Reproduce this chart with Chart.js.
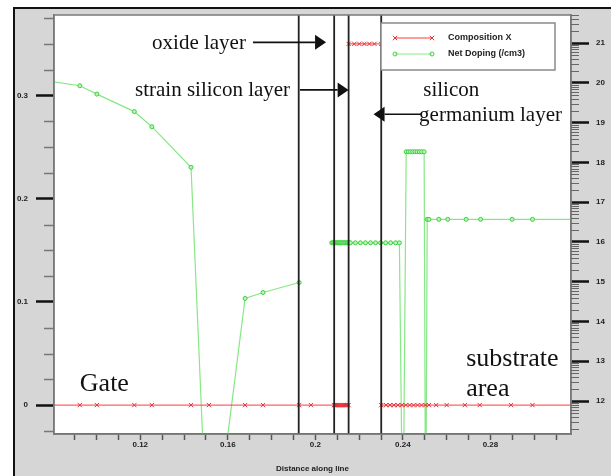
<!DOCTYPE html>
<html>
<head>
<meta charset="utf-8">
<script src="https://cdn.jsdelivr.net/npm/chart.js@4.4.1/dist/chart.umd.min.js"></script>
<style>
html,body{margin:0;padding:0;background:#fff;}
#wrap{position:relative;width:611px;height:476px;}
canvas{display:block;}
</style>
</head>
<body>
<div id="wrap"><canvas id="c" width="611" height="476"></canvas></div>
<script>
// ---------- data ----------
const compX = [0.079, 0.0924, 0.1002, 0.1173, 0.1253, 0.1432, 0.1514, 0.1679, 0.1761, 0.1926, 0.1980,
  0.2085, 0.2090, 0.2095, 0.2100, 0.2105, 0.2110, 0.2115, 0.2120, 0.2125, 0.2130, 0.2135, 0.2140, 0.2145, 0.2152,
  0.2152, 0.2178, 0.2201, 0.2224, 0.2247, 0.2270, 0.2301,
  0.2301, 0.2323, 0.2341, 0.2359, 0.2377, 0.2395, 0.2413, 0.2431, 0.2449, 0.2467, 0.2485, 0.2503, 0.2519,
  0.2552, 0.2600, 0.2683, 0.2751, 0.2894, 0.2992, 0.3200];
const compValues = [0, 0, 0, 0, 0, 0, 0, 0, 0, 0, 0,
  0, 0, 0, 0, 0, 0, 0, 0, 0, 0, 0, 0, 0, 0,
  0.35, 0.35, 0.35, 0.35, 0.35, 0.35, 0.35,
  0, 0, 0, 0, 0, 0, 0, 0, 0, 0, 0, 0, 0,
  0, 0, 0, 0, 0, 0, 0];

const dopingX = [0.079, 0.0924, 0.1002, 0.1173, 0.1253, 0.1432, 0.1514, 0.1679, 0.1761, 0.1926, 0.1980,
  0.2075, 0.2080, 0.2085, 0.2090, 0.2095, 0.2100, 0.2105, 0.2110, 0.2115, 0.2120, 0.2125, 0.2130, 0.2135, 0.2140, 0.2145, 0.2150, 0.2155, 0.2160,
  0.2183, 0.2206, 0.2229, 0.2252, 0.2275, 0.2298, 0.2321, 0.2344, 0.2367, 0.2384,
  0.2400,
  0.2415, 0.2425, 0.2435, 0.2445, 0.2455, 0.2465, 0.2475, 0.2485, 0.2497,
  0.2504,
  0.2511, 0.2519, 0.2564, 0.2605, 0.2689, 0.2755, 0.2899, 0.2992, 0.3200];
const dopingLog = [20.04, 19.93, 19.72, 19.28, 18.90, 17.88, 7.4, 14.58, 14.73, 14.98, null,
  15.98, 15.98, 15.98, 15.98, 15.98, 15.98, 15.98, 15.98, 15.98, 15.98, 15.98, 15.98, 15.98, 15.98, 15.98, 15.98, 15.98, 15.98,
  15.98, 15.98, 15.98, 15.98, 15.98, 15.98, 15.98, 15.98, 15.98, 15.98,
  8.1,
  18.27, 18.27, 18.27, 18.27, 18.27, 18.27, 18.27, 18.27, 18.27,
  8.0,
  16.57, 16.57, 16.57, 16.57, 16.57, 16.57, 16.57, 16.57, 16.57];

const layerBoundaries = [0.1924, 0.2086, 0.2152, 0.2301];

const xTicks = [0.09, 0.10, 0.11, 0.12, 0.13, 0.14, 0.15, 0.16, 0.17, 0.18, 0.19, 0.20, 0.21, 0.22, 0.23, 0.24, 0.25, 0.26, 0.27, 0.28, 0.29, 0.30, 0.31];
const xTickLabels = ['0.12', '0.16', '0.2', '0.24', '0.28'];
const leftTicks = [0, 0.1, 0.2, 0.3];
const leftMinorTicks = [-0.025, 0.025, 0.05, 0.075, 0.125, 0.15, 0.175, 0.225, 0.25, 0.275, 0.325, 0.35, 0.375];
const rightTicks = [12, 13, 14, 15, 16, 17, 18, 19, 20, 21];
const rightDecades = [11, 12, 13, 14, 15, 16, 17, 18, 19, 20, 21];

const seriesNames = ['Composition X', 'Net Doping (/cm3)'];

const annotationTexts = [
  {text: 'oxide layer', x: 0.1254, y: 0.345, size: 21},
  {text: 'strain silicon layer', x: 0.1176, y: 0.2993, size: 21},
  {text: 'silicon', x: 0.2493, y: 0.2993, size: 21},
  {text: 'germanium layer', x: 0.2474, y: 0.2755, size: 21},
  {text: 'Gate', x: 0.0924, y: 0.0139, size: 26},
  {text: 'substrate', x: 0.2689, y: 0.0382, size: 26},
  {text: 'area', x: 0.2689, y: 0.009, size: 26}
];
const annotationArrows = [
  {from: 0.1715, to: 0.2049, y: 0.3515},
  {from: 0.1930, to: 0.2152, y: 0.3054},
  {from: 0.2483, to: 0.2266, y: 0.2818}
];

// ---------- ranges ----------
const X_MIN = 0.0806, X_MAX = 0.3168;
const Y_MIN = -0.028, Y_MAX = 0.378;
const Y2_MIN = 11.17, Y2_MAX = 21.71;

const RED = '#ff3b3b';
const GREEN_LINE = '#86e886';
const GREEN_PT = '#3fcf3f';
const tickFont = {family: "'Liberation Sans', Arial, sans-serif", size: 8, weight: 'bold'};

const datasets = [];
datasets.push({
  label: seriesNames[0],
  data: compX.map((x, i) => ({x, y: compValues[i]})),
  yAxisID: 'y', borderColor: RED, borderWidth: 1, pointStyle: 'crossRot', pointRadius: 3,
  pointBorderColor: '#e8303a', pointBorderWidth: 1,
  segment: {borderColor: c => (c.p0.parsed.x === c.p1.parsed.x ? 'rgba(0,0,0,0)' : undefined)}
});
datasets.push({
  label: seriesNames[1],
  data: dopingX.map((x, i) => ({x, y: dopingLog[i]})),
  yAxisID: 'y2', borderColor: GREEN_LINE, borderWidth: 1.2, pointStyle: 'circle', pointRadius: 2,
  pointBorderColor: GREEN_PT, pointBackgroundColor: '#b8f5b8', pointBorderWidth: 1, spanGaps: false
});

// layer boundary lines are drawn on top of the curves, through the same scales
const boundaryPlugin = {
  id: 'boundaries',
  afterDatasetsDraw(chart) {
    const {ctx, scales} = chart;
    ctx.save();
    ctx.strokeStyle = '#222'; ctx.lineWidth = 1.8;
    layerBoundaries.forEach(b => {
      const px = scales.x.getPixelForValue(b);
      ctx.beginPath(); ctx.moveTo(px, scales.y.getPixelForValue(Y_MAX)); ctx.lineTo(px, scales.y.getPixelForValue(Y_MIN)); ctx.stroke();
    });
    ctx.restore();
  }
};

const deco = {
  id: 'deco',
  beforeDraw(chart) {
    const {ctx, width, height, chartArea: a} = chart;
    ctx.save();
    ctx.fillStyle = '#fff'; ctx.fillRect(0, 0, width, height);
    ctx.fillStyle = '#d6d6d6'; ctx.fillRect(14, 8, width - 14, height - 8);
    ctx.strokeStyle = '#111'; ctx.lineWidth = 2;
    ctx.beginPath(); ctx.moveTo(14, height); ctx.lineTo(14, 8); ctx.lineTo(width, 8); ctx.stroke();
    ctx.fillStyle = '#fff'; ctx.fillRect(a.left, a.top, a.right - a.left, a.bottom - a.top);
    ctx.restore();
  },
  afterDraw(chart) {
    const {ctx, chartArea: a, scales} = chart;
    const xs = scales.x, ys = scales.y, y2 = scales.y2;
    ctx.save();
    // plot frame
    ctx.strokeStyle = '#7a7a7a'; ctx.lineWidth = 1.5;
    ctx.strokeRect(a.left, a.top, a.right - a.left, a.bottom - a.top);
    // left minor ticks
    ctx.strokeStyle = '#777'; ctx.lineWidth = 1.5;
    leftMinorTicks.forEach(v => {
      const p = Math.round(ys.getPixelForValue(v)) + 0.5;
      ctx.beginPath(); ctx.moveTo(a.left - 10, p); ctx.lineTo(a.left, p); ctx.stroke();
    });
    // right minor (log) ticks
    ctx.strokeStyle = '#666'; ctx.lineWidth = 1;
    rightDecades.forEach(n => {
      for (let k = 2; k <= 9; k++) {
        const v = n + Math.log10(k);
        if (v < Y2_MIN || v > Y2_MAX) continue;
        const p = Math.round(y2.getPixelForValue(v)) + 0.5;
        ctx.beginPath(); ctx.moveTo(a.right, p); ctx.lineTo(a.right + 8, p); ctx.stroke();
      }
    });
    // annotation texts
    ctx.fillStyle = '#111';
    ctx.textBaseline = 'alphabetic'; ctx.textAlign = 'left';
    annotationTexts.forEach(t => {
      ctx.font = t.size + "px 'Liberation Serif', 'Times New Roman', serif";
      ctx.fillText(t.text, xs.getPixelForValue(t.x), ys.getPixelForValue(t.y));
    });
    // arrows
    ctx.strokeStyle = '#111'; ctx.lineWidth = 1.6;
    annotationArrows.forEach(ar => {
      const x1 = xs.getPixelForValue(ar.from), x2 = xs.getPixelForValue(ar.to), y = ys.getPixelForValue(ar.y);
      const dir = x2 > x1 ? 1 : -1;
      const hl = 11, hh = 7.5;
      ctx.beginPath(); ctx.moveTo(x1, y); ctx.lineTo(x2 - dir * hl, y); ctx.stroke();
      ctx.beginPath(); ctx.moveTo(x2, y); ctx.lineTo(x2 - dir * hl, y - hh); ctx.lineTo(x2 - dir * hl, y + hh); ctx.closePath(); ctx.fill();
    });
    // legend
    const lx = a.right - 190, ly = a.top + 8, lw = 174, lh = 47;
    ctx.fillStyle = '#fff'; ctx.fillRect(lx, ly, lw, lh);
    ctx.strokeStyle = '#8a8a8a'; ctx.lineWidth = 1.5; ctx.strokeRect(lx, ly, lw, lh);
    const rows = [
      {name: seriesNames[0], color: RED, pt: 'x', ptc: '#e8303a', y: ly + 15},
      {name: seriesNames[1], color: GREEN_LINE, pt: 'o', ptc: GREEN_PT, y: ly + 31}
    ];
    rows.forEach(r => {
      const s1 = lx + 14, s2 = lx + 51;
      ctx.strokeStyle = r.color; ctx.lineWidth = 1;
      ctx.beginPath(); ctx.moveTo(s1, r.y); ctx.lineTo(s2, r.y); ctx.stroke();
      [s1, s2].forEach(px => {
        ctx.strokeStyle = r.ptc;
        ctx.beginPath();
        if (r.pt === 'x') {
          ctx.moveTo(px - 2.2, r.y - 2.2); ctx.lineTo(px + 2.2, r.y + 2.2);
          ctx.moveTo(px - 2.2, r.y + 2.2); ctx.lineTo(px + 2.2, r.y - 2.2);
        } else {
          ctx.arc(px, r.y, 2, 0, Math.PI * 2);
        }
        ctx.stroke();
      });
      ctx.fillStyle = '#222';
      ctx.font = "bold 9px 'Liberation Sans', Arial, sans-serif";
      ctx.textBaseline = 'middle';
      ctx.fillText(r.name, lx + 67, r.y);
    });
    ctx.restore();
  }
};

new Chart(document.getElementById('c'), {
  type: 'line',
  data: {datasets},
  plugins: [deco, boundaryPlugin],
  options: {
    responsive: false,
    animation: false,
    devicePixelRatio: 1,
    layout: {padding: {top: 15, left: 0, right: 0, bottom: 0}},
    plugins: {legend: {display: false}, tooltip: {enabled: false}},
    elements: {line: {tension: 0}},
    scales: {
      x: {
        type: 'linear', min: X_MIN, max: X_MAX,
        afterBuildTicks: s => { s.ticks = xTicks.map(v => ({value: v})); },
        afterFit: s => { s.height = 42; },
        ticks: {
          autoSkip: false, maxRotation: 0, padding: 0, color: '#222', font: tickFont,
          callback: v => { const l = String(Math.round(v * 100) / 100); return xTickLabels.includes(l) ? l : ''; }
        },
        grid: {drawOnChartArea: false, drawTicks: true, tickLength: 6, tickColor: '#555', tickWidth: 1.5},
        border: {display: true, color: '#666', width: 1.5},
        title: {display: true, text: 'Distance along line', color: '#222', font: tickFont, padding: {top: 0, bottom: 2}}
      },
      y: {
        type: 'linear', position: 'left', min: Y_MIN, max: Y_MAX,
        afterBuildTicks: s => { s.ticks = leftTicks.map(v => ({value: v})); },
        afterFit: s => { s.width = 54; },
        ticks: {padding: 8, color: '#222', font: tickFont, callback: v => String(v)},
        grid: {drawOnChartArea: false, drawTicks: true, tickLength: 18, tickColor: '#111', tickWidth: 2.5},
        border: {display: true, color: '#777', width: 1.5}
      },
      y2: {
        type: 'linear', position: 'right', min: Y2_MIN, max: Y2_MAX,
        afterBuildTicks: s => { s.ticks = rightTicks.map(v => ({value: v})); },
        afterFit: s => { s.width = 40; },
        ticks: {padding: 7, color: '#222', font: tickFont, callback: v => String(v)},
        grid: {drawOnChartArea: false, drawTicks: true, tickLength: 18, tickColor: '#111', tickWidth: 2.5},
        border: {display: true, color: '#777', width: 1.5}
      }
    }
  }
});
</script>
</body>
</html>
